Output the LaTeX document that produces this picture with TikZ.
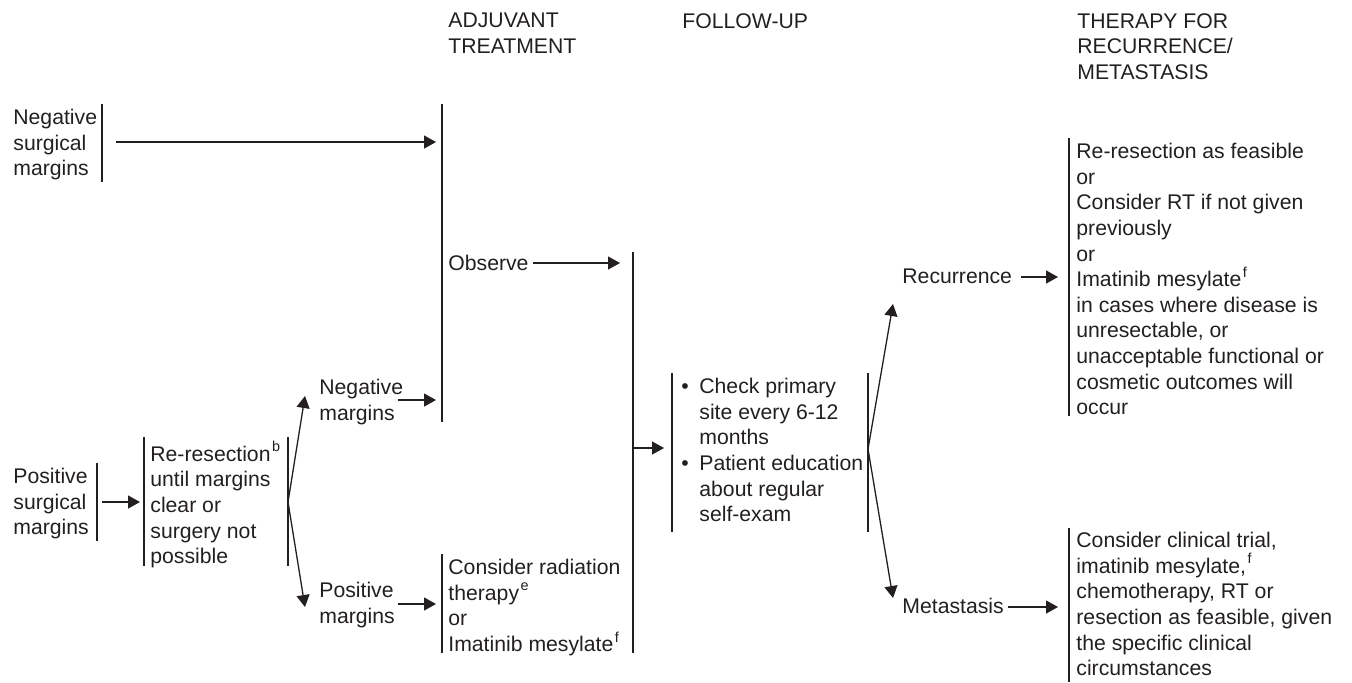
\documentclass[tikz,border=0pt]{standalone}
\usepackage{fontspec}
\setmainfont{Liberation Sans}
\usetikzlibrary{arrows.meta}
\definecolor{ink}{HTML}{231F20}
\newcommand{\fubul}{\makebox[9pt][l]{\textbullet}}
\newcommand{\fuind}{\hspace*{9pt}}
\newcommand{\fnote}[1]{\hspace{0.8pt}\raisebox{0.45em}{\fontsize{7.2}{7.2}\selectfont #1}}

\begin{document}
\begin{tikzpicture}[x=0.5pt,y=-0.5pt,
    txt/.style={anchor=north west,inner sep=0pt,align=left,text=ink,font=\fontsize{10.6}{12.8}\selectfont},
    bar/.style={ink,line width=0.8pt},
    arr/.style={ink,line width=0.65pt,-{Triangle[length=6pt,width=6.5pt]}}]
    \useasboundingbox (0,0) rectangle (1352,682);
    % column headings
    \node[txt] (hadj) at (448,13) {ADJUVANT\\TREATMENT};
    \node[txt] (hfu) at (682,13) {FOLLOW-UP};
    \node[txt] (hther) at (1077,13) {THERAPY FOR\\RECURRENCE/\\METASTASIS};
    % text blocks
    \node[txt] (nsm) at (13,109) {Negative\\surgical\\margins};
    \node[txt] (psm) at (13,468) {Positive\\surgical\\margins};
    \node[txt] (rr) at (150,441) {Re-resection\fnote{b}\\until margins\\clear or\\surgery not\\possible};
    \node[txt] (negm) at (319,379) {Negative\\margins};
    \node[txt] (posm) at (319,582) {Positive\\margins};
    \node[txt] (obs) at (448,255) {Observe};
    \node[txt] (rad) at (448,559) {Consider radiation\\therapy\fnote{e}\\or\\Imatinib mesylate\fnote{f}};
    \node[txt] (fu) at (681,378) {\fubul Check primary\\\fuind site every 6-12\\\fuind months\\\fubul Patient education\\\fuind about regular\\\fuind self-exam};
    \node[txt] (rec) at (902,269) {Recurrence};
    \node[txt] (met) at (902,598) {Metastasis};
    \node[txt] (rtx) at (1076,143) {Re-resection as feasible\\or\\Consider RT if not given\\previously\\or\\Imatinib mesylate\fnote{f}\\in cases where disease is\\unresectable, or\\unacceptable functional or\\cosmetic outcomes will\\occur};
    \node[txt] (mtx) at (1076,532) {Consider clinical trial,\\imatinib mesylate,\fnote{f}\\chemotherapy, RT or\\resection as feasible, given\\the specific clinical\\circumstances};
    % bars
    \foreach \x/\ya/\yb in {102/104/182, 442/104/422, 97/463/541, 144/437/566, 288/437/566,
        442/554/653, 633/252/653, 672/373/532, 868/373/532, 1069/138/416, 1069/528/682}
        \draw[bar] (\x,\ya) -- (\x,\yb);
    % arrow ends
    \coordinate (nsm-out) at (116,142);  \coordinate (adj-in) at (436,142);
    \coordinate (psm-out) at (102,502);  \coordinate (rr-in) at (140,502);
    \coordinate (rr-out) at (288,502);
    \coordinate (negm-in) at (305,396);  \coordinate (posm-in) at (305,607);
    \coordinate (negm-out) at (398,400); \coordinate (adjn-in) at (436,400);
    \coordinate (posm-out) at (398,604); \coordinate (rad-in) at (436,604);
    \coordinate (obs-out) at (533,263);  \coordinate (obs-in) at (620,263);
    \coordinate (fu-out) at (633,448);   \coordinate (fu-in) at (664,448);
    \coordinate (fb-out) at (868,449);
    \coordinate (rec-in) at (893,304);   \coordinate (met-in) at (893,598);
    \coordinate (rec-out) at (1021,277); \coordinate (rtx-in) at (1058,277);
    \coordinate (met-out) at (1008,607); \coordinate (mtx-in) at (1058,607);
    % arrows
    \draw[arr] (nsm-out) -- (adj-in);
    \draw[arr] (psm-out) -- (rr-in);
    \draw[arr] (rr-out) -- (negm-in);
    \draw[arr] (rr-out) -- (posm-in);
    \draw[arr] (negm-out) -- (adjn-in);
    \draw[arr] (posm-out) -- (rad-in);
    \draw[arr] (obs-out) -- (obs-in);
    \draw[arr] (fu-out) -- (fu-in);
    \draw[arr] (fb-out) -- (rec-in);
    \draw[arr] (fb-out) -- (met-in);
    \draw[arr] (rec-out) -- (rtx-in);
    \draw[arr] (met-out) -- (mtx-in);
\end{tikzpicture}
\end{document}
